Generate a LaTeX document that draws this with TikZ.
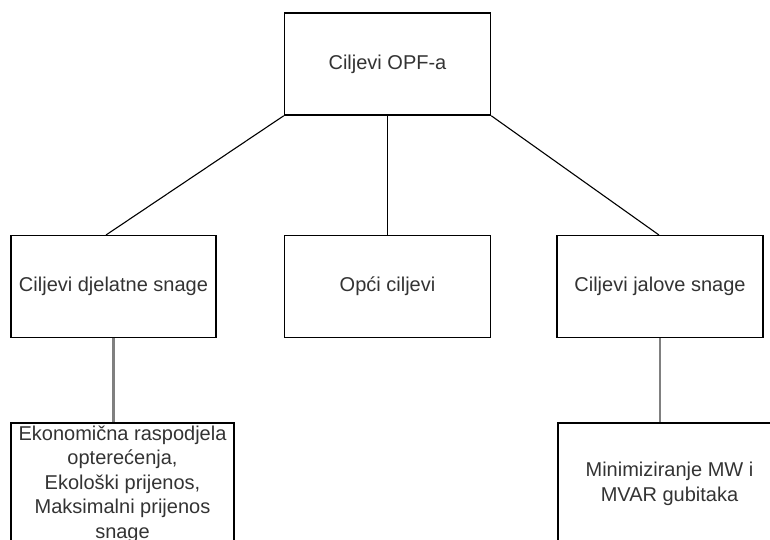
\documentclass[tikz,border=0pt]{standalone}
\usepackage{fontspec}
\setmainfont{Liberation Sans}
\definecolor{txt}{HTML}{333333}
\begin{document}
\begin{tikzpicture}[x=1pt,y=-1pt,
  box/.style={draw=black,line width=1.5pt,rectangle,inner sep=0pt,minimum width=#1,minimum height=102pt,font=\fontsize{20}{24.5}\selectfont,text=txt,align=center},
  bbox/.style={box=#1,minimum height=122pt},
  link/.style={draw=black,line width=1.1pt},
  glink/.style={draw=gray,line width=2.6pt}]
\useasboundingbox (0,0) rectangle (770,539);
\node[box=206pt] (top) at (387.5,64) {Ciljevi OPF-a};
\node[box=205pt] (l) at (113.5,286.5) {Ciljevi djelatne snage};
\node[box=206pt] (m) at (387.5,286.5) {Opći ciljevi};
\node[box=206pt] (r) at (660,286.5) {Ciljevi jalove snage};
\node[bbox=223pt] (bl) at (122.5,484) {Ekonomična raspodjela\\opterećenja,\\Ekološki prijenos,\\Maksimalni prijenos\\snage};
\node[bbox=223pt] (br) at (669.5,484) {Minimiziranje MW i\\MVAR gubitaka};
\coordinate (lt) at (106,235);
\coordinate (rt) at (659,235);
\draw[link] (top.south west) -- (lt);
\draw[link] (top.south) -- (m.north);
\draw[link] (top.south east) -- (rt);
\draw[glink] (l.south) -- (l.south |- bl.north);
\draw[glink] (r.south) -- (r.south |- br.north);
\end{tikzpicture}
\end{document}
